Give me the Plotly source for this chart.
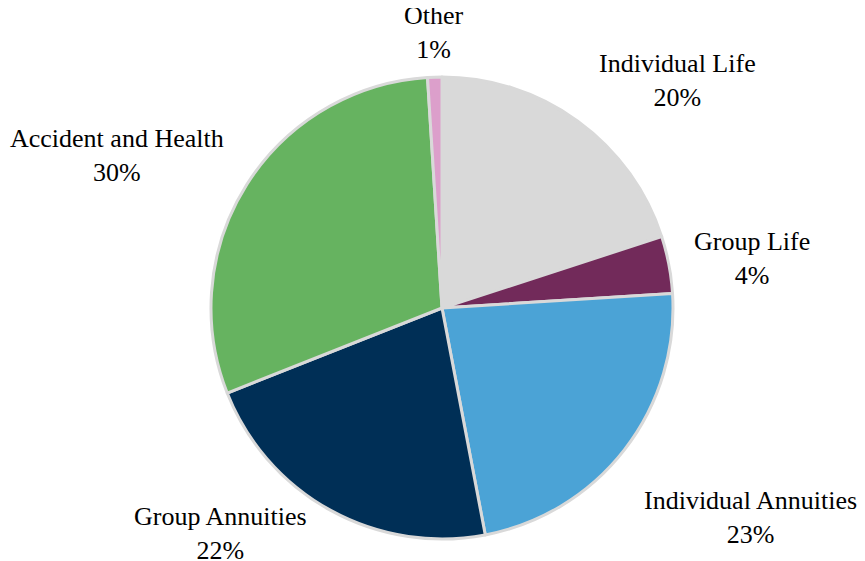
import math
import plotly.graph_objects as go

labels = ["Individual Life", "Group Life", "Individual Annuities",
          "Group Annuities", "Accident and Health", "Other"]
shares = [20, 4, 23, 22, 30, 1]
colors = ["#d9d9d9", "#722a5a", "#4ba3d6", "#002f56", "#66b360", "#dc9fcb"]

# small nudges (px) for the outside labels, Excel "best fit" style
label_nudge = [(9, 7), (5, -3), (3, 23), (-13, -26), (-6, 14), (0, 7)]

# page body has an 8px margin, so the figure is made 8px smaller
OFF = 8
W, H = 865 - OFF, 561 - OFF
cx, cy, r = 442 - OFF, 308 - OFF, 231  # pie centre / radius in figure px
gap = 18

fig = go.Figure(
    go.Pie(
        labels=labels,
        values=shares,
        sort=False,
        direction="clockwise",
        rotation=0,
        marker=dict(colors=colors, line=dict(color="#d9d9d9", width=3)),
        textinfo="none",
        hoverinfo="label+percent",
        showlegend=False,
        domain=dict(x=[(cx - r) / W, (cx + r) / W],
                    y=[1 - (cy + r) / H, 1 - (cy - r) / H]),
    )
)

# outside labels, placed at each slice's mid-angle
total = sum(shares)
start = 0.0
for lab, v, (dx, dy) in zip(labels, shares, label_nudge):
    mid = (start + v / 2) / total * 2 * math.pi
    start += v
    s, c = math.sin(mid), math.cos(mid)
    px = cx + (r + gap) * s + dx
    py = cy - (r + gap) * c + dy
    xa = "left" if s > 0.3 else ("right" if s < -0.3 else "center")
    ya = "bottom" if c > 0.3 else ("top" if c < -0.3 else "middle")
    fig.add_annotation(
        x=px / W, y=1 - py / H, xref="paper", yref="paper",
        text=f"{lab}<br>{v}%", showarrow=False,
        xanchor=xa, yanchor=ya, align="center",
        font=dict(family="Liberation Serif", size=26, color="black"),
    )

fig.update_layout(
    width=W,
    height=H,
    margin=dict(l=0, r=0, t=0, b=0),
    paper_bgcolor="white",
    plot_bgcolor="white",
    font=dict(family="Liberation Serif", size=26, color="black"),
)

fig.write_html("out.html")
